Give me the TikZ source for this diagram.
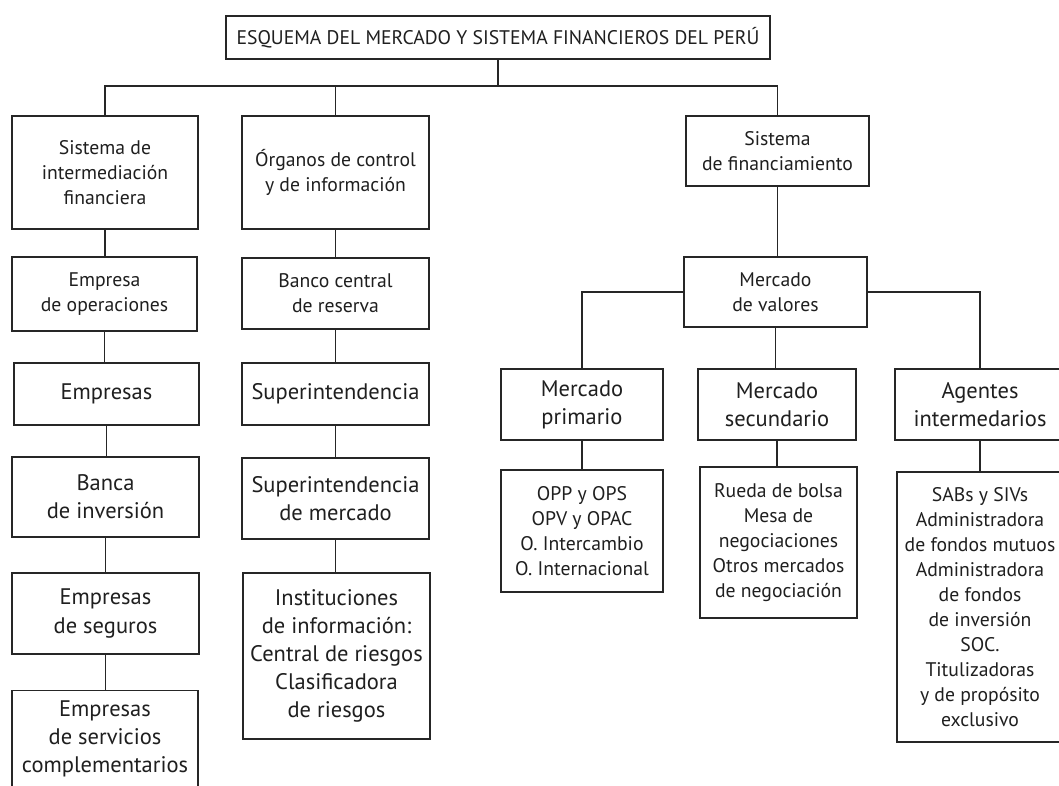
\documentclass[tikz,border=0pt]{standalone}
\usepackage{fontspec}
\setmainfont{PT Sans}
\tikzset{
  caja/.style={draw=black!85,line width=1pt,align=center,inner sep=1.5pt,text=black!88},
  chica/.style={font=\fontsize{14}{17.8}\selectfont},
  grande/.style={font=\fontsize{16}{20}\selectfont},
  tam/.style 2 args={minimum width=#1*0.025cm,minimum height=#2*0.025cm},
  con/.style={draw=black!85,line width=1pt},
}

\begin{document}
\begin{tikzpicture}[x=0.025cm,y=-0.025cm]
  \path[use as bounding box,clip] (0,0) rectangle (1059,785);
  \fill[white] (0,0) rectangle (1059,785);
  % titulo
  \node[caja,chica,tam={544}{43}] (tit) at (498,37.5)
       {ESQUEMA DEL MERCADO Y SISTEMA FINANCIEROS DEL PERÚ};
  % primer nivel
  \node[caja,chica,tam={186}{113}] (sif) at (105,172.5) {Sistema de\\intermediación\\financiera};
  \node[caja,chica,tam={187}{113}] (org) at (335.5,172.5) {Órganos de control\\y de información};
  \node[caja,chica,tam={183}{70}]  (sfi) at (777.5,151) {Sistema\\de financiamiento};
  % intermediacion
  \node[caja,chica,tam={185}{74}]  (eop) at (104.5,294) {Empresa\\de operaciones};
  \node[caja,grande,tam={185}{62}] (emp) at (106.5,394) {Empresas};
  \node[caja,grande,tam={187}{80}] (bin) at (105.5,497) {Banca\\de inversión};
  \node[caja,grande,tam={187}{81}] (seg) at (105.5,613.5) {Empresas\\de seguros};
  \node[caja,grande,minimum width=186*0.025cm,anchor=north,inner ysep=7pt,text depth=80pt]
       (ser) at (105,690) {Empresas\\de servicios\\complementarios};
  % control e informacion
  \node[caja,chica,tam={187}{71}]  (bcr) at (335.5,293.5) {Banco central\\de reserva};
  \node[caja,grande,tam={187}{62}] (sup) at (335.5,394) {Superintendencia};
  \node[caja,grande,tam={187}{81}] (smv) at (335.5,498.5) {Superintendencia\\de mercado};
  \node[caja,grande,tam={187}{166}] (ins) at (336.5,656)
       {Instituciones\\de información:\\Central de riesgos\\Clasificadora\\de riesgos};
  % financiamiento
  \node[caja,chica,tam={183}{70}]  (mva) at (775.5,292) {Mercado\\de valores};
  \node[caja,grande,tam={162}{71}] (mpr) at (582,404.5) {Mercado\\primario};
  \node[caja,grande,tam={158}{71}] (msc) at (777,404.5) {Mercado\\secundario};
  \node[caja,grande,tam={170}{71}] (age) at (980,404.5) {Agentes\\intermedarios};
  \node[caja,chica,tam={162}{122}] (opp) at (582,531)
       {OPP y OPS\\OPV y OPAC\\O. Intercambio\\O. Internacional};
  \node[caja,chica,tam={157}{151}] (rue) at (778.5,542.5)
       {Rueda de bolsa\\Mesa de\\negociaciones\\Otros mercados\\de negociación};
  \node[caja,chica,tam={166}{270}] (sab) at (980,607)
       {SABs y SIVs\\Administradora\\de fondos mutuos\\Administradora\\de fondos\\de inversión\\SOC.\\Titulizadoras\\y de propósito\\exclusivo};
  % conectores
  \coordinate (bus) at (498,86);
  \draw[con] (tit.south) -- (bus);
  \draw[con] (sif.north) |- (bus) -| (sfi.north);
  \draw[con] (org.north) -- (org.north |- bus);
  \foreach \a/\b in {sif/eop,eop/emp,emp/bin,bin/seg,seg/ser,
                     org/bcr,bcr/sup,sup/smv,smv/ins,
                     sfi/mva,mva/msc,mpr/opp,msc/rue,age/sab}
    \draw[con] (\a.south) -- (\a.south |- \b.north);
  \draw[con] (mva.west) -| (mpr.north);
  \draw[con] (mva.east) -| (age.north);
\end{tikzpicture}
\end{document}
